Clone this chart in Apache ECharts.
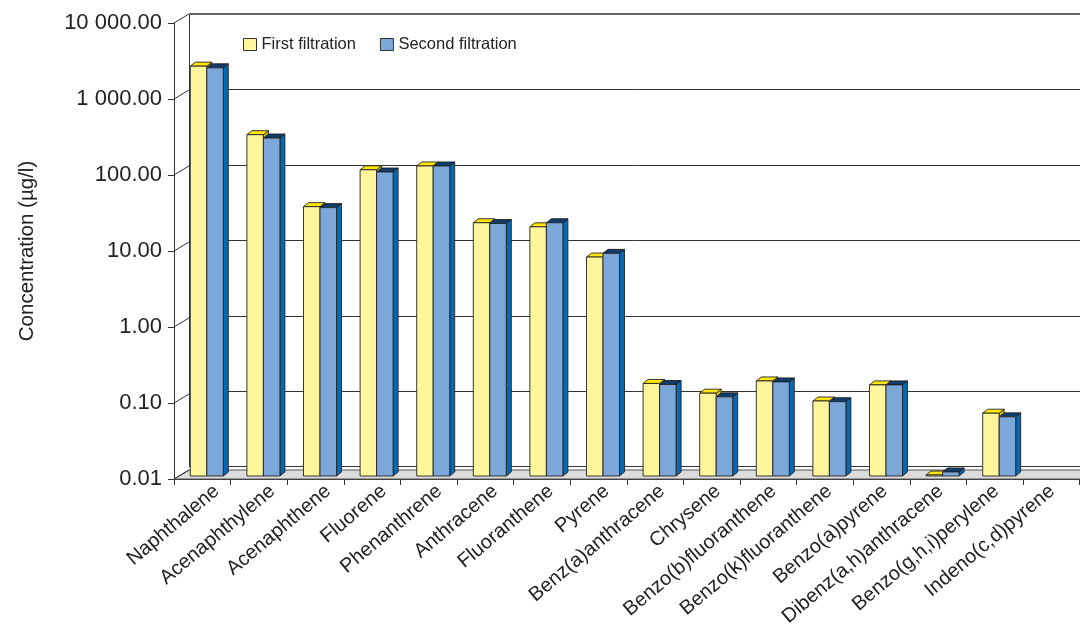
<!DOCTYPE html>
<html>
<head>
<meta charset="utf-8">
<script src="https://cdn.jsdelivr.net/npm/echarts@6/dist/echarts.min.js"></script>
<style>
html,body{margin:0;padding:0;background:#fff;}
#chart{width:1080px;height:629px;}
</style>
</head>
<body>
<div id="chart"></div>
<script>
const categories = ["Naphthalene","Acenaphthylene","Acenaphthene","Fluorene","Phenanthrene","Anthracene","Fluoranthene","Pyrene","Benz(a)anthracene","Chrysene","Benzo(b)fluoranthene","Benzo(k)fluoranthene","Benzo(a)pyrene","Dibenz(a,h)anthracene","Benzo(g,h,i)perylene","Indeno(c,d)pyrene"];
const firstFiltration  = [2470, 310, 35, 107, 120, 21.5, 19, 7.6, 0.165, 0.123, 0.178, 0.097, 0.158, 0.0103, 0.067, null];
const secondFiltration = [2350, 280, 34, 100, 120, 21, 21.5, 8.5, 0.16, 0.11, 0.173, 0.095, 0.158, 0.0113, 0.06, null];
const yTicks = [0.01, 0.1, 1, 10, 100, 1000, 10000];
const seriesNames = ["First filtration", "Second filtration"];

const FONT = "Liberation Sans";
const YMIN = 0.01, YMAX = 10000;
// 3D geometry
const DEPTH_X = 15, DEPTH_Y = 9;
const BAR_SHIFT_X = 4.5, BAR_SHIFT_Y = 3;
const BAR_W = 16.5, BAR_DX = 5, BAR_DY = 4;
const FRONT = {left: 174, top: 23, width: 905.6, height: 456};

const palette = [
  {front: "#FFF69C", top: "#FFE600", side: "#E0C400"},
  {front: "#7BA7D9", top: "#0F3D6B", side: "#0568B3"}
];

function fmt(v){
  const s = (Math.round(v * 100) / 100).toFixed(2);
  const parts = s.split(".");
  parts[0] = parts[0].replace(/\B(?=(\d{3})+(?!\d))/g, " ");
  return parts.join(".");
}

function barRender(si){
  return function(params, api){
    const v = api.value(1);
    if (v == null || isNaN(v)) return;
    const idx = api.value(0);
    const top = api.coord([idx, v]);
    const base = api.coord([idx, YMIN]);
    const cx = top[0] + BAR_SHIFT_X;
    const x = si === 0 ? cx - BAR_W : cx;
    const yt = top[1] - BAR_SHIFT_Y;
    const yb = base[1] - BAR_SHIFT_Y;
    const c = palette[si];
    const st = {stroke: "#222", lineWidth: 0.9, lineJoin: "round"};
    return {
      type: "group",
      children: [
        {type: "polygon", shape: {points: [[x + BAR_W, yt], [x + BAR_W + BAR_DX, yt - BAR_DY], [x + BAR_W + BAR_DX, yb - BAR_DY], [x + BAR_W, yb]]},
         style: Object.assign({fill: c.side}, st)},
        {type: "polygon", shape: {points: [[x, yt], [x + BAR_W, yt], [x + BAR_W + BAR_DX, yt - BAR_DY], [x + BAR_DX, yt - BAR_DY]]},
         style: Object.assign({fill: c.top}, st)},
        {type: "rect", shape: {x: x, y: yt, width: BAR_W, height: yb - yt},
         style: Object.assign({fill: c.front}, st)}
      ]
    };
  };
}

// floor, top border + diagonal connectors between front axis and back wall
function decorRender(params, api){
  const v = api.value(1);
  const p = api.coord([0, v]);
  const band = api.size([1, 0])[0];
  const x0 = p[0] - band / 2;
  const x1 = x0 + band * categories.length;
  const children = [
    {type: "line", shape: {x1: x0, y1: p[1], x2: x0 + DEPTH_X, y2: p[1] - DEPTH_Y}, style: {stroke: "#333", lineWidth: 1}}
  ];
  if (params.dataIndex === 0) {
    children.unshift({type: "polygon", shape: {points: [[x0, p[1]], [x1, p[1]], [x1 + DEPTH_X, p[1] - DEPTH_Y], [x0 + DEPTH_X, p[1] - DEPTH_Y]]},
      style: {fill: "#DCDCDC", stroke: "#555", lineWidth: 1}});
  }
  if (params.dataIndex === yTicks.length - 1) {
    children.push({type: "line", shape: {x1: x0 + DEPTH_X, y1: p[1] - DEPTH_Y, x2: x1 + DEPTH_X, y2: p[1] - DEPTH_Y},
      style: {stroke: "#666", lineWidth: 2}});
  }
  return {type: "group", children: children};
}

const chart = echarts.init(document.getElementById("chart"), null, {renderer: "canvas"});
const yAxisCommon = {type: "log", logBase: 10, min: YMIN, max: YMAX, splitNumber: 6};

chart.setOption({
  animation: false,
  backgroundColor: "#fff",
  textStyle: {fontFamily: FONT},
  legend: {
    left: 238, top: 31, itemWidth: 13, itemHeight: 12, itemGap: 24, icon: "rect",
    data: seriesNames,
    textStyle: {fontFamily: FONT, fontSize: 16.5, color: "#222"},
    itemStyle: {borderColor: "#333", borderWidth: 1}
  },
  grid: [
    Object.assign({}, FRONT),
    {left: FRONT.left + DEPTH_X, top: FRONT.top - DEPTH_Y, width: FRONT.width, height: FRONT.height}
  ],
  xAxis: [
    {type: "category", gridIndex: 0, data: categories,
     axisLine: {show: true, lineStyle: {color: "#333", width: 1}},
     axisTick: {show: true, interval: 0, length: 6, lineStyle: {color: "#333"}},
     axisLabel: {show: false}, splitLine: {show: false}},
    {type: "category", gridIndex: 1, data: categories,
     axisLine: {show: false}, axisTick: {show: false}, splitLine: {show: false},
     axisLabel: {show: true, interval: 0, rotate: 40, margin: 22, fontFamily: FONT, fontSize: 20, color: "#222"}}
  ],
  yAxis: [
    Object.assign({gridIndex: 0,
      name: "Concentration (µg/l)", nameLocation: "middle", nameGap: 136,
      nameTextStyle: {fontFamily: FONT, fontSize: 20.5, color: "#222"},
      axisLine: {show: true, lineStyle: {color: "#333", width: 1}},
      axisTick: {show: true, length: 6, lineStyle: {color: "#333"}},
      axisLabel: {margin: 12, fontFamily: FONT, fontSize: 22, color: "#222", formatter: fmt},
      splitLine: {show: false}}, yAxisCommon),
    Object.assign({gridIndex: 1,
      axisLine: {show: true, lineStyle: {color: "#333", width: 1}},
      axisTick: {show: false}, axisLabel: {show: false},
      splitLine: {show: true, lineStyle: {color: "#333", width: 1}}}, yAxisCommon)
  ],
  series: [
    {type: "custom", name: "decor", xAxisIndex: 0, yAxisIndex: 0, silent: true, z: 1,
     renderItem: decorRender, data: yTicks.map(v => [0, v]), legendHoverLink: false},
    {type: "custom", name: seriesNames[0], xAxisIndex: 0, yAxisIndex: 0, z: 3,
     itemStyle: {color: palette[0].front},
     renderItem: barRender(0), data: firstFiltration.map((v, i) => [i, v])},
    {type: "custom", name: seriesNames[1], xAxisIndex: 0, yAxisIndex: 0, z: 4,
     itemStyle: {color: palette[1].front},
     renderItem: barRender(1), data: secondFiltration.map((v, i) => [i, v])}
  ]
});
</script>
</body>
</html>
